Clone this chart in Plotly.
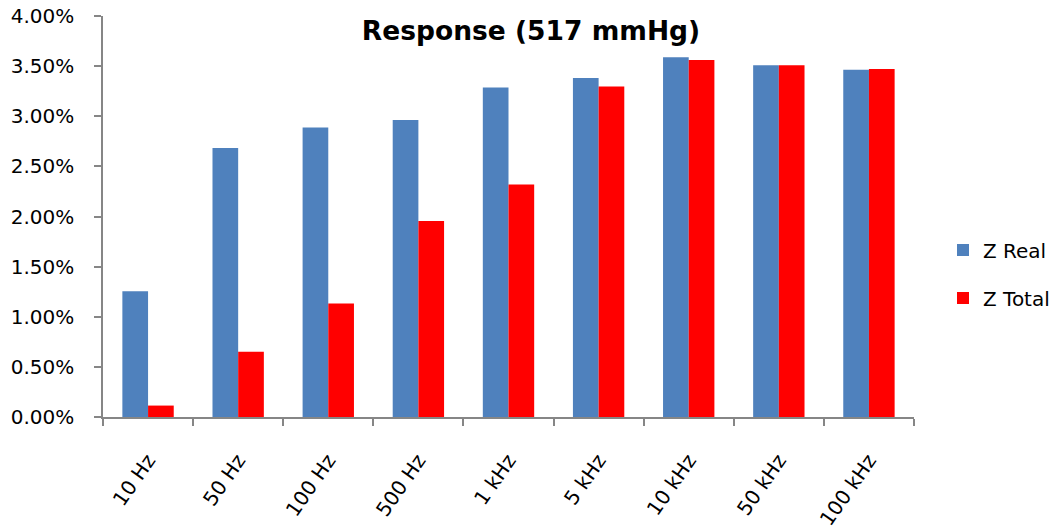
import plotly.graph_objects as go

categories = ["10 Hz", "50 Hz", "100 Hz", "500 Hz", "1 kHz", "5 kHz", "10 kHz", "50 kHz", "100 kHz"]
z_real = [0.01254, 0.02683, 0.02887, 0.02963, 0.03286, 0.03382, 0.03588, 0.03508, 0.03465]
z_total = [0.00114, 0.00650, 0.01131, 0.01955, 0.02318, 0.03296, 0.03561, 0.03508, 0.03471]
y_ticks = [0, 0.005, 0.01, 0.015, 0.02, 0.025, 0.03, 0.035, 0.04]

FONT = "DejaVu Sans"
axis_color = "#868686"

fig = go.Figure()
fig.add_trace(go.Bar(x=categories, y=z_real, name="Z Real", marker_color="#4F81BD",
                     marker_line_width=0, legendgroup="a"))
fig.add_trace(go.Bar(x=categories, y=z_total, name="Z Total", marker_color="#FF0000",
                     marker_line_width=0, legendgroup="b"))

fig.update_layout(
    width=1059, height=529,
    margin=dict(l=103, r=145, t=16, b=112, autoexpand=False),
    paper_bgcolor="white", plot_bgcolor="white",
    font=dict(family=FONT, color="black", size=20),
    barmode="group", bargap=0.43, bargroupgap=0,
    title=dict(text="<b>Response (517 mmHg)</b>", x=531 / 1059, xref="container", xanchor="center",
               y=1 - 31 / 529, yref="container", yanchor="middle",
               font=dict(family=FONT, size=26.5, color="black")),
    legend=dict(xref="container", yref="container", x=943 / 1059, xanchor="left",
                y=1 - 274 / 529, yanchor="middle",
                font=dict(family=FONT, size=20), traceorder="grouped",
                tracegroupgap=19, itemwidth=30, bgcolor="rgba(0,0,0,0)"),
    showlegend=True,
)
fig.update_xaxes(
    showline=True, linecolor=axis_color, linewidth=1.5,
    ticks="outside", tickson="boundaries", ticklen=7, tickcolor=axis_color, tickwidth=1.5,
    tickangle=-55, tickfont=dict(family=FONT, size=20), showgrid=False,
    ticklabelstandoff=22, automargin=False,
)
fig.update_yaxes(
    range=[0, 0.04], tickvals=y_ticks, tickformat=".2%",
    showline=True, linecolor=axis_color, linewidth=1.5,
    ticks="outside", ticklen=7, tickcolor=axis_color, tickwidth=1.5,
    tickfont=dict(family=FONT, size=20), showgrid=False, zeroline=False,
    ticklabelstandoff=16, automargin=False,
)

fig.write_html("out.html")
